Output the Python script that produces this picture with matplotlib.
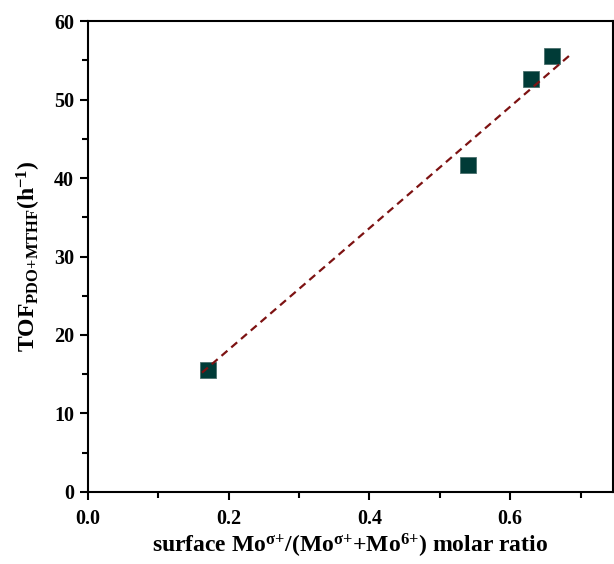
import numpy as np
import matplotlib
matplotlib.use("Agg")
import matplotlib.pyplot as plt
from matplotlib.ticker import MultipleLocator

plt.rcParams['font.family'] = ['Liberation Serif', 'DejaVu Serif']
plt.rcParams['font.weight'] = 'bold'
plt.rcParams['mathtext.fontset'] = 'custom'
plt.rcParams['mathtext.rm'] = 'Liberation Serif:bold'
plt.rcParams['mathtext.it'] = 'Liberation Serif:bold'
plt.rcParams['mathtext.bf'] = 'Liberation Serif:bold'

# Data
mo_ratio = [0.17, 0.54, 0.63, 0.66]
tof = [15.6, 41.7, 52.6, 55.5]
# linear fit line as drawn in the picture (end points)
fit_x = [0.162, 0.688]
fit_y = [15.2, 55.9]

fig = plt.figure(figsize=(6.14, 5.64), dpi=100)
ax = fig.add_axes([0.1433, 0.1277, 0.855, 0.835])

ax.plot(fit_x, fit_y, linestyle=(0, (3.5, 2.3)), color='#7d1212', lw=1.6, zorder=3)
ax.plot(mo_ratio, tof, linestyle='none', marker='s', markersize=12,
        color='#003b37', markeredgecolor='#4a6f6c', markeredgewidth=0.6, zorder=2)

ax.set_xlim(0, 0.746)
ax.set_ylim(0, 60)
ax.xaxis.set_major_locator(MultipleLocator(0.2))
ax.xaxis.set_minor_locator(MultipleLocator(0.1))
ax.yaxis.set_major_locator(MultipleLocator(10))
ax.yaxis.set_minor_locator(MultipleLocator(5))
ax.tick_params(which='major', direction='out', length=6, width=1.5, labelsize=14.5)
ax.tick_params(axis='x', which='major', pad=6)
ax.tick_params(axis='y', which='major', pad=4)
ax.tick_params(which='minor', direction='out', length=4, width=1.5)
ax.set_xticks([0.0, 0.2, 0.4, 0.6])
ax.set_xticklabels(['0.0', '0.2', '0.4', '0.6'])
for lab in ax.get_xticklabels() + ax.get_yticklabels():
    lab.set_fontweight('bold')
for s in ax.spines.values():
    s.set_linewidth(1.5)

ax.set_xlabel(r'surface Mo$^{\mathrm{σ{+}}}$/(Mo$^{\mathrm{σ{+}}}$+Mo$^{\mathrm{6{+}}}$) molar ratio',
              fontsize=17, fontweight='bold', labelpad=2)
ax.set_ylabel(r'TOF$_{\mathrm{PDO{+}MTHF}}$(h$^{\mathrm{{-}1}}$)', fontsize=17, fontweight='bold', labelpad=8)

fig.savefig('out.png', dpi=100)
